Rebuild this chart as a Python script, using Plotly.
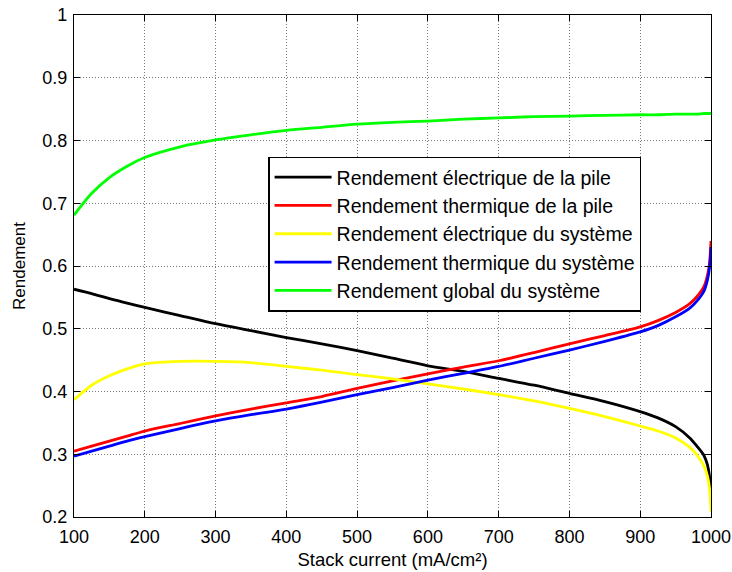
import plotly.graph_objects as go

# Stack current density (mA/cm²)
current = [100, 125, 150, 175, 200, 250, 300, 350, 400, 450, 500, 550, 600,
           650, 700, 750, 800, 850, 900, 925, 950, 970, 980, 990, 995, 998, 1000]

# Efficiencies
elec_pile = [0.563, 0.556, 0.548, 0.541, 0.534, 0.521, 0.508, 0.497, 0.486, 0.476,
             0.465, 0.453, 0.441, 0.432, 0.421, 0.410, 0.397, 0.384, 0.368, 0.358,
             0.344, 0.326, 0.313, 0.298, 0.283, 0.264, 0.243]
therm_pile = [0.305, 0.313, 0.321, 0.329, 0.337, 0.349, 0.361, 0.372, 0.382, 0.392,
              0.405, 0.417, 0.428, 0.439, 0.449, 0.462, 0.476, 0.489, 0.503, 0.513,
              0.526, 0.540, 0.551, 0.567, 0.585, 0.605, 0.640]
elec_sys = [0.387, 0.410, 0.425, 0.436, 0.444, 0.448, 0.448, 0.446, 0.440, 0.434,
            0.427, 0.420, 0.412, 0.404, 0.395, 0.385, 0.373, 0.360, 0.345, 0.337,
            0.326, 0.311, 0.299, 0.281, 0.265, 0.245, 0.208]
therm_sys = [0.297, 0.305, 0.313, 0.321, 0.328, 0.341, 0.353, 0.363, 0.372, 0.383,
             0.395, 0.406, 0.418, 0.429, 0.440, 0.453, 0.466, 0.480, 0.495, 0.505,
             0.519, 0.533, 0.544, 0.560, 0.578, 0.598, 0.630]
global_sys = [0.681, 0.716, 0.741, 0.759, 0.773, 0.790, 0.801, 0.809, 0.816, 0.821,
              0.826, 0.829, 0.831, 0.834, 0.836, 0.838, 0.839, 0.840, 0.841, 0.841,
              0.842, 0.842, 0.842, 0.843, 0.843, 0.843, 0.843]

series_names = [
    "Rendement électrique de la pile",
    "Rendement thermique de la pile",
    "Rendement électrique du système",
    "Rendement thermique du système",
    "Rendement global du système",
]
series_values = [elec_pile, therm_pile, elec_sys, therm_sys, global_sys]
series_colors = ["#000000", "#ff0000", "#ffff00", "#0000ff", "#00ff00"]

x_ticks = [100, 200, 300, 400, 500, 600, 700, 800, 900, 1000]
y_ticks = [0.2, 0.3, 0.4, 0.5, 0.6, 0.7, 0.8, 0.9, 1]
y_tick_text = ["0.2", "0.3", "0.4", "0.5", "0.6", "0.7", "0.8", "0.9", "1"]

FONT = "Liberation Sans, Arial, sans-serif"

fig = go.Figure()
for name, vals, col in zip(series_names, series_values, series_colors):
    fig.add_trace(go.Scatter(
        x=current, y=vals, name=name, mode="lines",
        line=dict(color=col, width=2.8, shape="spline", smoothing=0.8),
    ))

axis_common = dict(
    showline=True, linecolor="black", linewidth=1.3, mirror="ticks",
    ticks="inside", ticklen=6, tickcolor="black", tickwidth=1,
    showgrid=True, gridcolor="#7a7a7a", gridwidth=1, griddash="1px,2px",
    zeroline=False,
    tickfont=dict(family=FONT, size=18, color="black"),
)

fig.update_xaxes(
    range=[100, 1000], tickvals=x_ticks, ticklabelstandoff=3,
    title=dict(text="Stack current (mA/cm²)", font=dict(family=FONT, size=18.5, color="black"), standoff=7),
    **axis_common,
)
fig.update_yaxes(
    range=[0.2, 1], tickvals=y_ticks, ticktext=y_tick_text, ticklabelstandoff=2,
    title=dict(text="Rendement", font=dict(family=FONT, size=17, color="black"), standoff=12),
    **axis_common,
)

fig.update_layout(
    width=732, height=572,
    margin=dict(l=73.5, r=21, t=15, b=55, autoexpand=False),
    paper_bgcolor="white", plot_bgcolor="white",
    font=dict(family=FONT, color="black"),
    legend=dict(
        x=0.305, y=0.718, xanchor="left", yanchor="top",
        bgcolor="white", bordercolor="black", borderwidth=1.3,
        font=dict(family=FONT, size=19.5, color="black"),
        itemwidth=57, tracegroupgap=0,
    ),
    showlegend=True,
)

fig.write_html("out.html")
